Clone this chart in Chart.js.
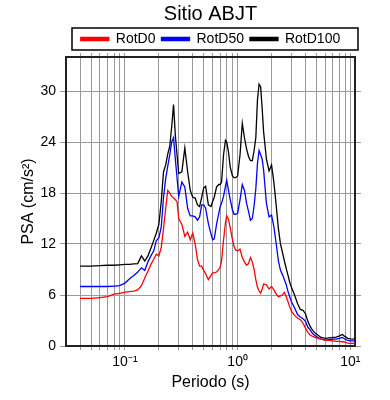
<!DOCTYPE html>
<html>
<head>
<meta charset="utf-8">
<script src="https://cdn.jsdelivr.net/npm/chart.js@4.4.1/dist/chart.umd.min.js"></script>
<style>
  html, body { margin: 0; padding: 0; background: #fff; }
</style>
</head>
<body>
<canvas id="psaChart" width="390" height="400"></canvas>
<script>
// Periodos (s)
const periods = [
    0.04, 0.05, 0.06, 0.07, 0.08, 0.09, 0.10, 0.11, 0.12, 0.13,
    0.14, 0.15, 0.16, 0.17, 0.18, 0.19, 0.20, 0.21, 0.22, 0.23,
    0.24, 0.25, 0.26, 0.27, 0.28, 0.29, 0.30, 0.32, 0.34, 0.36,
    0.38, 0.40, 0.42, 0.44, 0.46, 0.48, 0.50, 0.52, 0.55, 0.58,
    0.60, 0.62, 0.65, 0.68, 0.70, 0.72, 0.75, 0.78, 0.80, 0.83,
    0.86, 0.90, 0.93, 0.96, 1.0, 1.05, 1.1, 1.15, 1.2, 1.25,
    1.3, 1.35, 1.4, 1.45, 1.5, 1.55, 1.6, 1.65, 1.7, 1.8,
    1.9, 2.0, 2.1, 2.2, 2.3, 2.4, 2.5, 2.6, 2.7, 2.8,
    2.9, 3.0, 3.2, 3.4, 3.6, 3.8, 4.0, 4.2, 4.4, 4.6,
    4.8, 5.0, 5.5, 6.0, 6.5, 7.0, 7.5, 8.0, 8.5, 9.0,
    9.5, 10, 11
];

// PSA (cm/s2)
const rotD0 = [
    5.6, 5.6, 5.7, 5.8, 6.1, 6.2, 6.35, 6.4, 6.45, 6.6,
    7.1, 8.0, 8.8, 9.6, 10.2, 10.8, 10.6, 11.6, 13.8, 16.2,
    18.3, 18.0, 17.6, 17.4, 17.2, 17.0, 15.0, 14.3, 12.9, 13.4,
    12.5, 13.3, 12.0, 10.2, 9.4, 9.4, 8.9, 8.5, 7.8, 8.3,
    8.6, 8.6, 8.7, 9.0, 9.3, 10.0, 12.5, 14.5, 15.3, 14.9,
    13.9, 12.5, 11.7, 11.3, 11.2, 11.4, 10.4, 9.9, 9.5, 9.7,
    10.4, 9.9, 9.0, 7.8, 6.9, 6.5, 6.2, 6.7, 7.3, 7.2,
    6.7, 7.0, 6.6, 6.1, 5.8, 5.9, 6.0, 6.3, 5.8, 5.2,
    4.6, 4.1, 3.6, 3.3, 3.1, 2.7, 2.1, 1.6, 1.3, 1.15,
    1.05, 0.95, 0.8, 0.7, 0.65, 0.6, 0.55, 0.55, 0.5, 0.45,
    0.35, 0.3, 0.3
];

const rotD50 = [
    7.0, 7.0, 7.0, 7.0, 7.05, 7.1, 7.4, 7.9, 8.3, 8.7,
    9.2, 8.9, 9.9, 10.6, 11.2, 12.4, 12.7, 14.0, 17.5, 19.7,
    21.2, 22.5, 24.0, 24.5, 22.0, 19.8, 17.6, 19.3, 18.7, 16.2,
    15.3, 15.3, 15.2, 14.8, 15.2, 16.6, 16.6, 16.2, 14.4, 13.2,
    12.5, 12.6, 14.3, 15.6, 16.4, 16.8, 17.6, 18.8, 19.5, 18.3,
    17.2, 16.0, 15.5, 15.5, 15.6, 17.2, 19.0, 18.3, 16.8, 15.8,
    14.8, 15.0, 16.5, 18.5, 21.5, 23.0, 22.5, 22.0, 20.7, 16.8,
    15.2, 15.4, 14.0, 12.0, 10.0, 8.9, 8.4, 7.8, 7.2, 6.4,
    5.8, 5.2, 4.5, 3.7, 3.4, 3.2, 2.9, 2.2, 1.9, 1.5,
    1.3, 1.1, 0.8, 0.7, 0.75, 0.8, 0.8, 0.9, 1.0, 0.8,
    0.65, 0.6, 0.6
];

const rotD100 = [
    9.4, 9.4, 9.45, 9.5, 9.5, 9.55, 9.6, 9.6, 9.65, 9.7,
    10.6, 10.0, 10.6, 11.5, 12.4, 13.3, 14.3, 17.0, 20.5, 21.3,
    22.6, 23.5, 25.8, 28.4, 24.8, 22.5, 20.3, 20.5, 23.3, 20.5,
    18.3, 17.5, 17.4, 16.6, 16.4, 17.5, 18.6, 18.8, 16.6, 16.4,
    17.0, 17.5, 18.7, 19.0, 19.0, 19.3, 22.5, 24.2, 24.0, 22.8,
    21.0, 20.0, 19.8, 19.8, 20.0, 22.5, 26.2, 24.5, 23.2, 22.3,
    21.8, 21.8, 23.0, 24.5, 29.0, 30.8, 30.5, 28.0, 25.2, 22.0,
    20.6, 21.3, 19.2, 16.5, 13.8, 12.0, 11.0, 10.0, 9.1, 8.3,
    7.5, 6.9, 6.0, 5.0, 4.3, 4.2, 3.8, 2.9, 2.3, 1.9,
    1.6, 1.4, 1.0, 0.9, 0.95, 1.0, 1.05, 1.2, 1.35, 1.1,
    0.9, 0.85, 0.8
];

const seriesNames = ['RotD0', 'RotD50', 'RotD100'];
const seriesColors = ['#ff0000', '#0000ff', '#000000'];

// ticks del eje x (rejilla logaritmica) y etiquetas de decadas
const xTickValues = [
    0.04, 0.05, 0.06, 0.07, 0.08, 0.09,
    0.1, 0.2, 0.3, 0.4, 0.5, 0.6, 0.7, 0.8, 0.9,
    1, 2, 3, 4, 5, 6, 7, 8, 9, 10
];
const xLabelValues = [0.1, 1, 10];
const xLabelTexts = ['10\u207B\u00B9', '10\u2070', '10\u00B9'];
const yTickValues = [0, 6, 12, 18, 24, 30];

Chart.defaults.font.family = "'Liberation Sans', Arial, Helvetica, sans-serif";
Chart.defaults.color = '#000';

const gridColor = '#9a9a9a';
const frameColor = '#222';

// recuadro alrededor de la leyenda
const legendFrame = {
    id: 'legendFrame',
    afterDraw(chart) {
        const lg = chart.legend;
        if (!lg) return;
        const ctx = chart.ctx;
        ctx.save();
        ctx.strokeStyle = '#000';
        ctx.lineWidth = 1.5;
        ctx.strokeRect(lg.left + 6, lg.top + 2, lg.width - 3, 22);
        ctx.restore();
    }
};

const allSeries = [rotD0, rotD50, rotD100];
const datasets = allSeries.map((vals, k) => ({
    label: seriesNames[k],
    data: periods.map((t, i) => ({ x: t, y: vals[i] })),
    borderColor: seriesColors[k],
    backgroundColor: seriesColors[k],
    borderWidth: 1.3,
    pointRadius: 0,
    tension: 0,
    fill: false
}));

const setXTicks = (scale) => { scale.ticks = xTickValues.map(v => ({ value: v })); };
const setYTicks = (scale) => { scale.ticks = yTickValues.map(v => ({ value: v })); };

new Chart(document.getElementById('psaChart'), {
    type: 'line',
    data: { datasets: datasets },
    options: {
        responsive: false,
        animation: false,
        devicePixelRatio: 1,
        layout: { padding: 0 },
        plugins: {
            title: {
                display: true,
                text: 'Sitio ABJT',
                color: '#000',
                fullSize: false,
                font: { size: 20, weight: 'normal' },
                padding: { top: 2, bottom: 0 }
            },
            legend: {
                display: true,
                position: 'top',
                fullSize: false,
                labels: {
                    color: '#000',
                    font: { size: 14 },
                    boxWidth: 28,
                    boxHeight: 3,
                    padding: 6
                }
            },
            tooltip: { enabled: false }
        },
        scales: {
            x: {
                type: 'logarithmic',
                position: 'bottom',
                min: 0.03,
                max: 11,
                afterBuildTicks: setXTicks,
                afterFit: (s) => { s.height = 54; },
                ticks: {
                    autoSkip: false,
                    maxRotation: 0,
                    font: { size: 14 },
                    color: '#000',
                    padding: 4,
                    callback: (value) => {
                        const k = xLabelValues.indexOf(value);
                        return k >= 0 ? xLabelTexts[k] : '';
                    }
                },
                grid: { color: gridColor, tickLength: 4 },
                border: { color: frameColor, width: 2 },
                title: {
                    display: true,
                    text: 'Periodo (s)',
                    color: '#000',
                    font: { size: 16 },
                    padding: { top: 0, bottom: 8 }
                }
            },
            xTop: {
                type: 'logarithmic',
                position: 'top',
                min: 0.03,
                max: 11,
                afterBuildTicks: setXTicks,
                afterFit: (s) => { s.height = 1; },
                ticks: { display: false },
                grid: { drawOnChartArea: false, color: gridColor, tickLength: 4 },
                border: { color: frameColor, width: 2 }
            },
            y: {
                type: 'linear',
                position: 'left',
                min: 0,
                max: 34,
                afterBuildTicks: setYTicks,
                afterFit: (s) => { s.width = 66; },
                ticks: { font: { size: 14 }, color: '#000', padding: 4 },
                grid: { color: gridColor, tickLength: 6 },
                border: { color: frameColor, width: 2 },
                title: {
                    display: true,
                    text: 'PSA (cm/s\u00B2)',
                    color: '#000',
                    font: { size: 16 },
                    padding: { top: 19, bottom: 0 }
                }
            },
            yRight: {
                type: 'linear',
                position: 'right',
                min: 0,
                max: 34,
                afterBuildTicks: setYTicks,
                afterFit: (s) => { s.width = 35; },
                ticks: { display: false },
                grid: { drawOnChartArea: false, color: gridColor, tickLength: 6 },
                border: { color: frameColor, width: 2 }
            }
        }
    },
    plugins: [legendFrame]
});
</script>
</body>
</html>
